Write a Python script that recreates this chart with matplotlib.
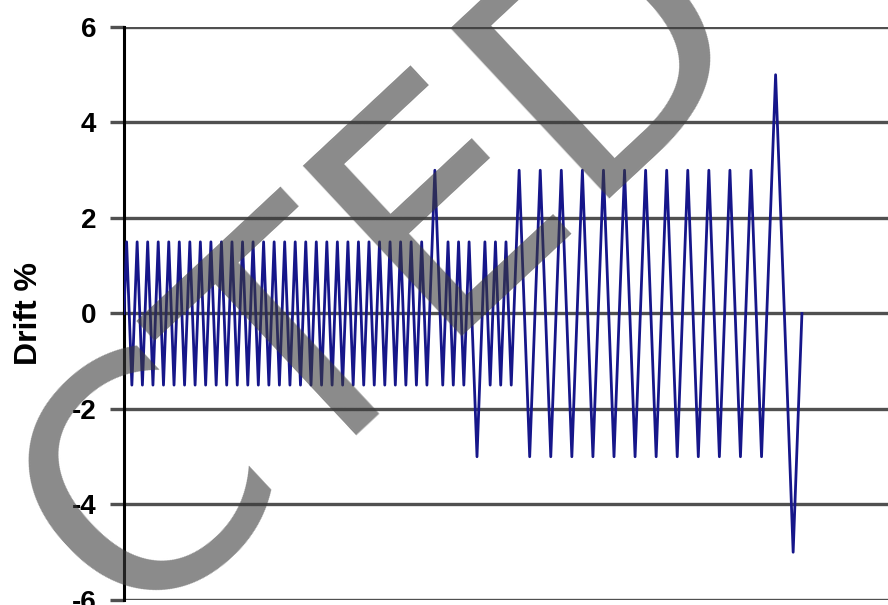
import numpy as np
import matplotlib
matplotlib.use('Agg')
import matplotlib.pyplot as plt

# Pontos de reversão do deslocamento (drift %)
inicio = [0.0]
ciclos_15a = [1.5, -1.5] * 29          # ciclos de +-1.5 %
pico_3 = [3.0]
ciclos_15b = [-1.5, 1.5] * 3
vale_3 = [-3.0]
ciclos_15c = [1.5, -1.5] * 3
ciclos_3 = [3.0] + [-3.0, 3.0] * 11    # ciclos de +-3 %
final = [-3.0, 5.0, -5.0, 0.0]

drift = np.array(inicio + ciclos_15a + pico_3 + ciclos_15b + vale_3
                 + ciclos_15c + ciclos_3 + final)

# ensaio a taxa constante: o tempo acompanha o deslocamento percorrido
tempo = np.concatenate([[0.0], np.cumsum(np.abs(np.diff(drift)))])

y_ticks = [-6, -4, -2, 0, 2, 4, 6]

fig = plt.figure(figsize=(8.88, 6.05), dpi=100)
ax = fig.add_axes([0.1396, 0.0083, 0.8604, 0.9471])

ax.plot(tempo, drift, color='#16168a', linewidth=2.0, zorder=3)

ax.set_xlim(0, 435)
ax.set_ylim(-6, 6)
ax.set_yticks(y_ticks)
ax.set_yticklabels([str(v) for v in y_ticks], fontsize=20, fontweight='bold',
                   family='Liberation Sans')
ax.set_xticks([])

ax.grid(axis='y', color='#505050', linewidth=2.4, zorder=1)
ax.tick_params(axis='y', length=10, width=2.4, color='#505050', pad=10)

for lado in ['top', 'right', 'bottom']:
    ax.spines[lado].set_visible(False)
ax.spines['left'].set_linewidth(2.2)
ax.spines['left'].set_color('black')

ax.set_ylabel('Drift %', fontsize=23, fontweight='bold', family='Liberation Sans')
ax.yaxis.set_label_coords(-0.105, 0.5)

# marca d'água por cima do gráfico
fig.text(0.434, 0.554, 'CTED', fontsize=230, color='#3c3c3c', alpha=0.6,
         rotation=43, rotation_mode='anchor', ha='center', va='center',
         family='DejaVu Sans', zorder=10)

fig.savefig('out.png', dpi=100)
